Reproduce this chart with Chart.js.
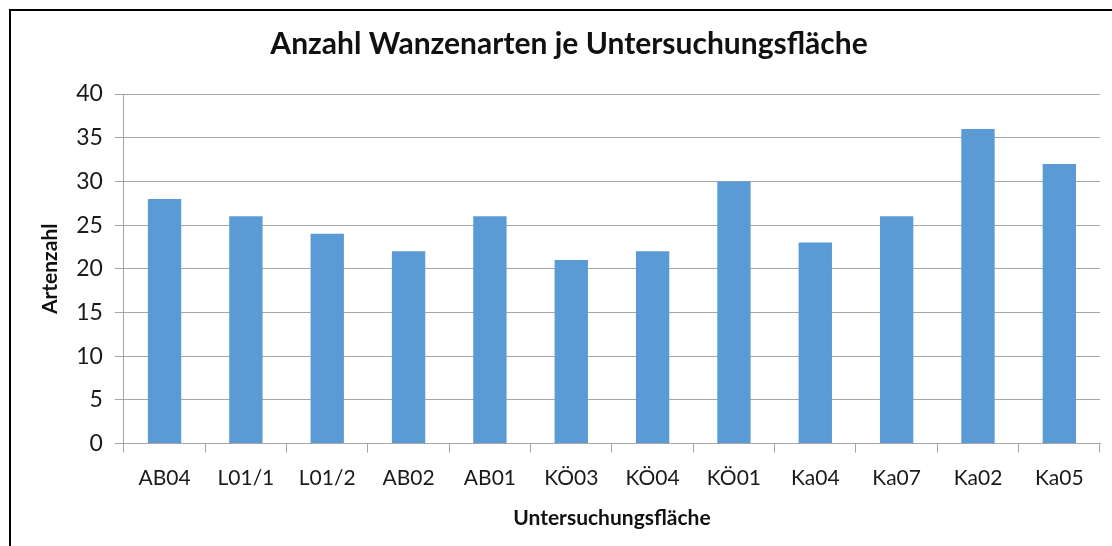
<!DOCTYPE html>
<html>
<head>
<meta charset="utf-8">
<script src="https://cdn.jsdelivr.net/npm/chart.js@4/dist/chart.umd.min.js"></script>
<style>
  html, body { margin: 0; padding: 0; background: #fff; overflow: hidden; }
  #frame {
    position: absolute; left: 9px; top: 9px;
    width: 1130px; height: 560px;
    border: 2px solid #000; box-sizing: border-box;
  }
  #wrap { position: absolute; left: 0; top: 0; width: 1108px; height: 535px; }
</style>
</head>
<body>
<div id="frame"><div id="wrap"><canvas id="chart"></canvas></div></div>
<script>
const categories = ["AB04", "L01/1", "L01/2", "AB02", "AB01", "KÖ03", "KÖ04", "KÖ01", "Ka04", "Ka07", "Ka02", "Ka05"];
const speciesCount = [28, 26, 24, 22, 26, 21, 22, 30, 23, 26, 36, 32];
const yTicks = [0, 5, 10, 15, 20, 25, 30, 35, 40];

const FONT = "Lato, 'Open Sans', sans-serif";
const GRID = "#a6a6a6";

const ctx = document.getElementById("chart").getContext("2d");
new Chart(ctx, {
  type: "bar",
  data: {
    labels: categories,
    datasets: [{
      label: "Artenzahl",
      data: speciesCount,
      backgroundColor: "#5b9bd5",
      borderWidth: 0,
      categoryPercentage: 0.41,
      barPercentage: 1
    }]
  },
  options: {
    responsive: true,
    maintainAspectRatio: false,
    animation: false,
    layout: { padding: { left: 27, right: 19, top: 9, bottom: 15 } },
    plugins: {
      legend: { display: false },
      tooltip: { enabled: false },
      title: {
        display: true,
        text: "Anzahl Wanzenarten je Untersuchungsfläche",
        color: "#111",
        font: { family: FONT, size: 30, weight: "bold" },
        padding: { top: 6, bottom: 32 }
      }
    },
    scales: {
      x: {
        grid: {
          offset: true,
          drawOnChartArea: false,
          color: GRID,
          tickLength: 9,
          tickColor: GRID
        },
        border: { color: GRID, width: 1 },
        ticks: {
          color: "#1a1a1a",
          font: { family: FONT, size: 21 },
          padding: 13,
          maxRotation: 0
        },
        title: {
          display: true,
          text: "Untersuchungsfläche",
          color: "#111",
          font: { family: FONT, size: 21, weight: "bold" },
          padding: { top: 2, bottom: 0 }
        }
      },
      y: {
        min: 0,
        max: 40,
        afterBuildTicks: axis => { axis.ticks = yTicks.map(v => ({ value: v })); },
        grid: {
          color: GRID,
          lineWidth: 1,
          tickLength: 9,
          tickColor: GRID
        },
        border: { color: GRID, width: 1 },
        ticks: {
          color: "#1a1a1a",
          font: { family: FONT, size: 23 },
          padding: 12
        },
        title: {
          display: true,
          text: "Artenzahl",
          color: "#111",
          font: { family: FONT, size: 21, weight: "bold" },
          padding: { top: 0, bottom: 1 }
        }
      }
    }
  }
});
</script>
</body>
</html>
